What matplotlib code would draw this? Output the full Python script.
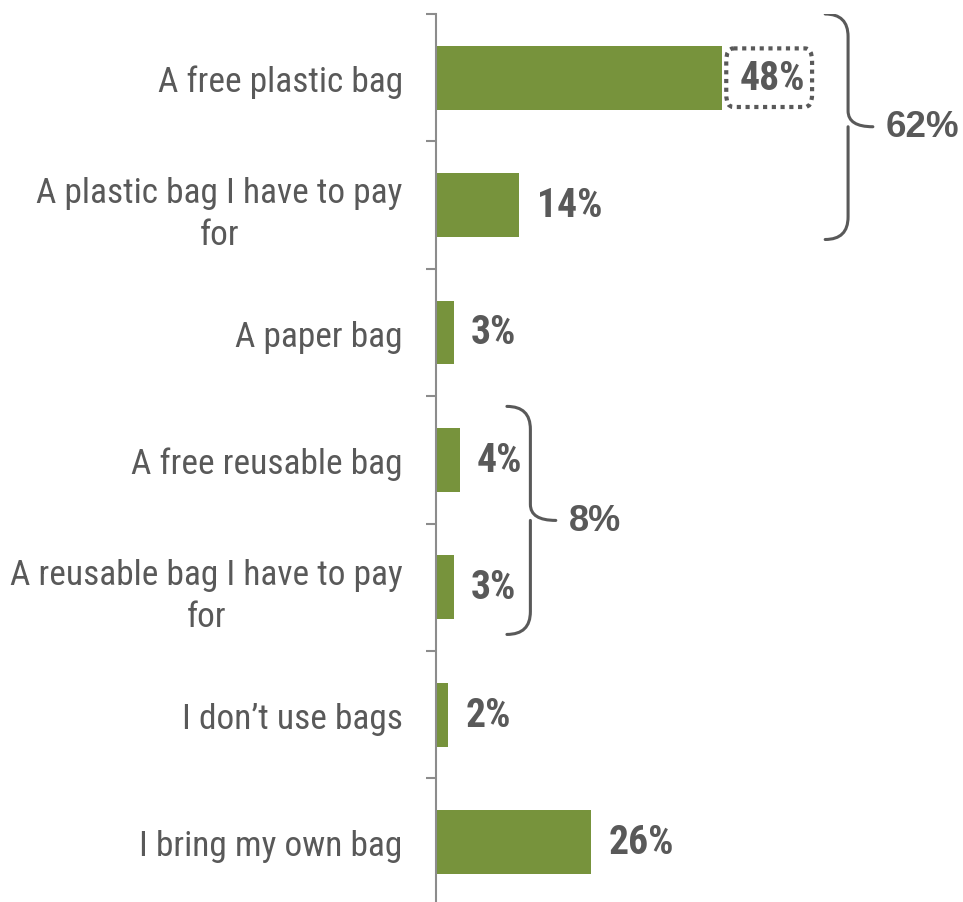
import matplotlib
matplotlib.use("Agg")
import matplotlib.pyplot as plt
import numpy as np
from matplotlib.patches import FancyBboxPatch, PathPatch
from matplotlib.path import Path

# answers, top to bottom
categories = [
    "A free plastic bag",
    "A plastic bag I have to pay\nfor",
    "A paper bag",
    "A free reusable bag",
    "A reusable bag I have to pay\nfor",
    "I don\u2019t use bags",
    "I bring my own bag",
]
values = [48, 14, 3, 4, 3, 2, 26]
value_labels = ["48%", "14%", "3%", "4%", "3%", "2%", "26%"]

# grouped totals shown with braces
plastic_group = [0, 1]
plastic_total = "62%"
reusable_group = [3, 4]
reusable_total = "8%"

GREEN = "#77933C"
GREY = "#595959"
AXIS = "#8C8C8C"
NARROW = ["Roboto Condensed", "DejaVu Sans"]
WIDE = ["Liberation Sans", "DejaVu Sans"]

W, H = 963, 903
fig = plt.figure(figsize=(W / 100, H / 100), dpi=100)
ax_left, ax_top = 436, 15
band = 127.4
ax = fig.add_axes([ax_left / W, 1 - (ax_top + 7 * band) / H,
                   (W - ax_left) / W, 7 * band / H])

y = np.arange(len(categories))
ax.barh(y, values, height=0.5, color=GREEN)
ax.set_ylim(6.5, -0.5)
xmax = (W - ax_left) / 5.96
ax.set_xlim(0, xmax)

for s in ["top", "right", "bottom"]:
    ax.spines[s].set_visible(False)
ax.spines["left"].set_color(AXIS)
ax.spines["left"].set_linewidth(1.5)
ax.set_xticks([])
ax.set_yticks(y)
ax.set_yticklabels(categories)
ax.set_yticks(np.arange(-0.5, 7.0, 1.0), minor=True)
ax.tick_params(axis="y", which="major", length=0, pad=24)
ax.tick_params(axis="y", which="minor", length=7.5, width=1.5, color=AXIS)
for lab in ax.get_yticklabels():
    lab.set_fontfamily(NARROW)
    lab.set_fontsize(25.5)
    lab.set_color(GREY)
    lab.set_multialignment("center")
    lab.set_linespacing(1.35)

# value labels
for i, (v, t) in enumerate(zip(values, value_labels)):
    ax.text(v + 2.9, i, t, va="center", ha="left", fontsize=28.5,
            fontweight="bold", color=GREY, family=NARROW)

# dotted rounded box round the biggest answer
box = FancyBboxPatch((values[0] + 0.7, -0.23), 14.4, 0.46,
                     boxstyle="round,pad=0,rounding_size=1.2",
                     mutation_aspect=1 / 12, fill=False, ec=GREY,
                     lw=3, ls=(0, (1, 1.1)), zorder=4)
ax.add_patch(box)


def brace(ax, x0, y0, y1, width, color=GREY):
    # curly brace opening to the left, tip pointing right
    xm = x0 + width * 0.48
    xt = x0 + width
    ym = (y0 + y1) / 2
    r = 0.1 * (y1 - y0)
    verts = [
        (x0, y0), (xm, y0), (xm, y0 + r),
        (xm, ym - r * 0.7), (xm, ym), (xt, ym),
        (xm, ym), (xm, ym + r * 0.7),
        (xm, y1 - r), (xm, y1), (x0, y1),
    ]
    codes = [Path.MOVETO, Path.CURVE3, Path.CURVE3,
             Path.LINETO, Path.CURVE3, Path.CURVE3,
             Path.MOVETO, Path.CURVE3,
             Path.LINETO, Path.CURVE3, Path.CURVE3]
    ax.add_patch(PathPatch(Path(verts, codes), fill=False, ec=color,
                           lw=2.2, capstyle="round", zorder=4))


# plastic bags brace
bx = max(values[i] for i in plastic_group) + 17.3
ylo, yhi = plastic_group[0] - 0.5, plastic_group[-1] + 0.27
brace(ax, bx, ylo, yhi, 8.0)
ax.text(bx + 10.2, (ylo + yhi) / 2, plastic_total, va="center", ha="left",
        fontsize=26.5, fontweight="bold", color=GREY, family=WIDE)

# reusable bags brace
bx2 = max(values[i] for i in reusable_group) + 7.9
ylo, yhi = reusable_group[0] - 0.42, reusable_group[-1] + 0.37
brace(ax, bx2, ylo, yhi, 8.2)
ax.text(bx2 + 10.4, (ylo + yhi) / 2, reusable_total, va="center", ha="left",
        fontsize=26, fontweight="bold", color=GREY, family=WIDE)

fig.savefig("out.png", dpi=100)
